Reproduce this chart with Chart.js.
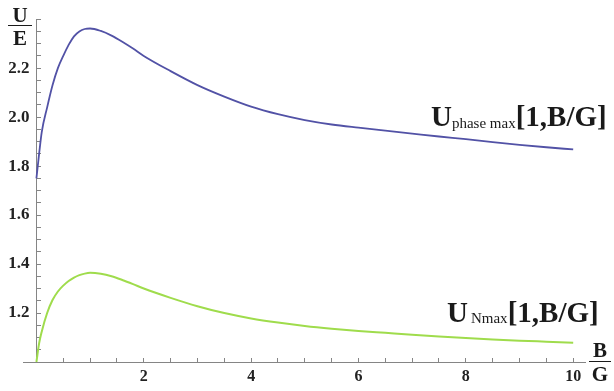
<!DOCTYPE html>
<html>
<head>
<meta charset="utf-8">
<script src="https://cdn.jsdelivr.net/npm/chart.js@4/dist/chart.umd.min.js"></script>
<style>
  html, body { margin: 0; padding: 0; background: #ffffff; }
  #wrap { position: relative; width: 614px; height: 391px; overflow: hidden; }
  canvas { position: absolute; left: 0; top: 0; }
  .lbl { position: absolute; font-family: "Liberation Serif", serif; color: #1a1a1a; white-space: nowrap; line-height: 1; }
  .big { font-weight: bold; font-size: 29px; }
  .sub { font-weight: normal; font-size: 15px; position: relative; }
  .frac { position: absolute; font-family: "Liberation Serif", serif; font-weight: bold; color: #1a1a1a; font-size: 21px; line-height: 1; text-align: center; }
  .bar { position: absolute; height: 0; border-top: 1.5px solid #1a1a1a; }
</style>
</head>
<body>
<div id="wrap">
  <canvas id="c" width="614" height="391"></canvas>
  <div class="frac" style="left:8px; top:5px; width:24px;">U</div>
  <div class="bar" style="left:8px; top:25px; width:24px;"></div>
  <div class="frac" style="left:8px; top:28px; width:24px;">E</div>

  <div class="frac" style="left:589px; top:340px; width:22px;">B</div>
  <div class="bar" style="left:589px; top:361px; width:22px;"></div>
  <div class="frac" style="left:589px; top:364px; width:22px;">G</div>

  <div class="lbl big" style="left:431px; top:102px;">U<span class="sub" style="top:2px;">phase max</span>[1,B/G]</div>
  <div class="lbl big" style="left:447px; top:298px;">U<span class="sub" style="top:1px;">&#8201;Nmax</span>[1,B/G]</div>
</div>
<script>
// B/G sample positions
const bg = [0, 0.05, 0.1, 0.2, 0.3, 0.4, 0.5, 0.6, 0.7, 0.8, 0.9, 1.0, 1.2, 1.4, 1.6, 1.8, 2.0, 2.5, 3.0, 3.5, 4.0, 4.5, 5.0, 5.5, 6.0, 6.5, 7.0, 7.5, 8.0, 8.5, 9.0, 9.5, 10];
// U_phase max [1,B/G]  (blue)
const uPhaseMax = [1.75, 1.85, 1.94, 2.04, 2.13, 2.20, 2.25, 2.295, 2.33, 2.35, 2.36, 2.362, 2.352, 2.333, 2.308, 2.28, 2.25, 2.188, 2.131, 2.084, 2.043, 2.012, 1.988, 1.970, 1.957, 1.945, 1.933, 1.921, 1.910, 1.898, 1.887, 1.877, 1.868];
// U_Nmax [1,B/G]  (green)
const uNmax = [1.0, 1.076, 1.125, 1.20, 1.253, 1.288, 1.312, 1.331, 1.345, 1.355, 1.361, 1.364, 1.360, 1.350, 1.335, 1.318, 1.300, 1.262, 1.228, 1.200, 1.178, 1.161, 1.147, 1.136, 1.127, 1.119, 1.111, 1.104, 1.098, 1.092, 1.087, 1.083, 1.079];
// axis tick labels
const xTickLabels = [2, 4, 6, 8, 10];
const yTickLabels = [1.2, 1.4, 1.6, 1.8, 2.0, 2.2];

const near = (a, b) => Math.abs(a - b) < 1e-6;
const axisGrey = '#858585';

new Chart(document.getElementById('c'), {
  type: 'line',
  data: {
    datasets: [
      { data: bg.map((x, i) => ({ x, y: uPhaseMax[i] })), borderColor: '#5252a6', borderWidth: 1.8, pointRadius: 0, cubicInterpolationMode: 'monotone', fill: false },
      { data: bg.map((x, i) => ({ x, y: uNmax[i] })), borderColor: '#9fdc4c', borderWidth: 2, pointRadius: 0, cubicInterpolationMode: 'monotone', fill: false }
    ]
  },
  options: {
    responsive: false,
    animation: false,
    devicePixelRatio: 1,
    layout: { padding: { left: 23, right: 29, top: 19, bottom: 29 } },
    plugins: { legend: { display: false }, tooltip: { enabled: false } },
    scales: {
      x: {
        type: 'linear',
        position: { y: 1 },
        min: -0.25, max: 10.22,
        border: { display: true, color: axisGrey, width: 1 },
        grid: {
          drawOnChartArea: false, drawTicks: true, tickLength: -5, tickWidth: 1,
          tickColor: (ctx) => {
            const v = ctx.tick ? ctx.tick.value : NaN;
            return (v > 0.01) ? axisGrey : 'rgba(0,0,0,0)';
          }
        },
        ticks: {
          stepSize: 0.5, autoSkip: false, maxTicksLimit: 200, maxRotation: 0,
          includeBounds: false,
          padding: 10,
          color: '#222',
          font: { family: 'Liberation Serif', size: 16, weight: 'bold' },
          callback: (v) => xTickLabels.some(t => near(t, v)) ? String(Math.round(v)) : ''
        }
      },
      y: {
        type: 'linear',
        position: { x: 0 },
        min: 1.0, max: 2.4,
        border: { display: true, color: axisGrey, width: 1 },
        grid: {
          drawOnChartArea: false, drawTicks: true, tickLength: -5, tickWidth: 1,
          tickColor: (ctx) => {
            const v = ctx.tick ? ctx.tick.value : NaN;
            return (v > 1.01) ? axisGrey : 'rgba(0,0,0,0)';
          }
        },
        ticks: {
          stepSize: 0.05, autoSkip: false, maxTicksLimit: 200,
          includeBounds: false,
          padding: 9,
          color: '#222',
          font: { family: 'Liberation Serif', size: 17, weight: 'bold' },
          callback: (v) => yTickLabels.some(t => near(t, v)) ? v.toFixed(1) + '\u2009\u2009' : ''
        }
      }
    }
  }
});
</script>
</body>
</html>
